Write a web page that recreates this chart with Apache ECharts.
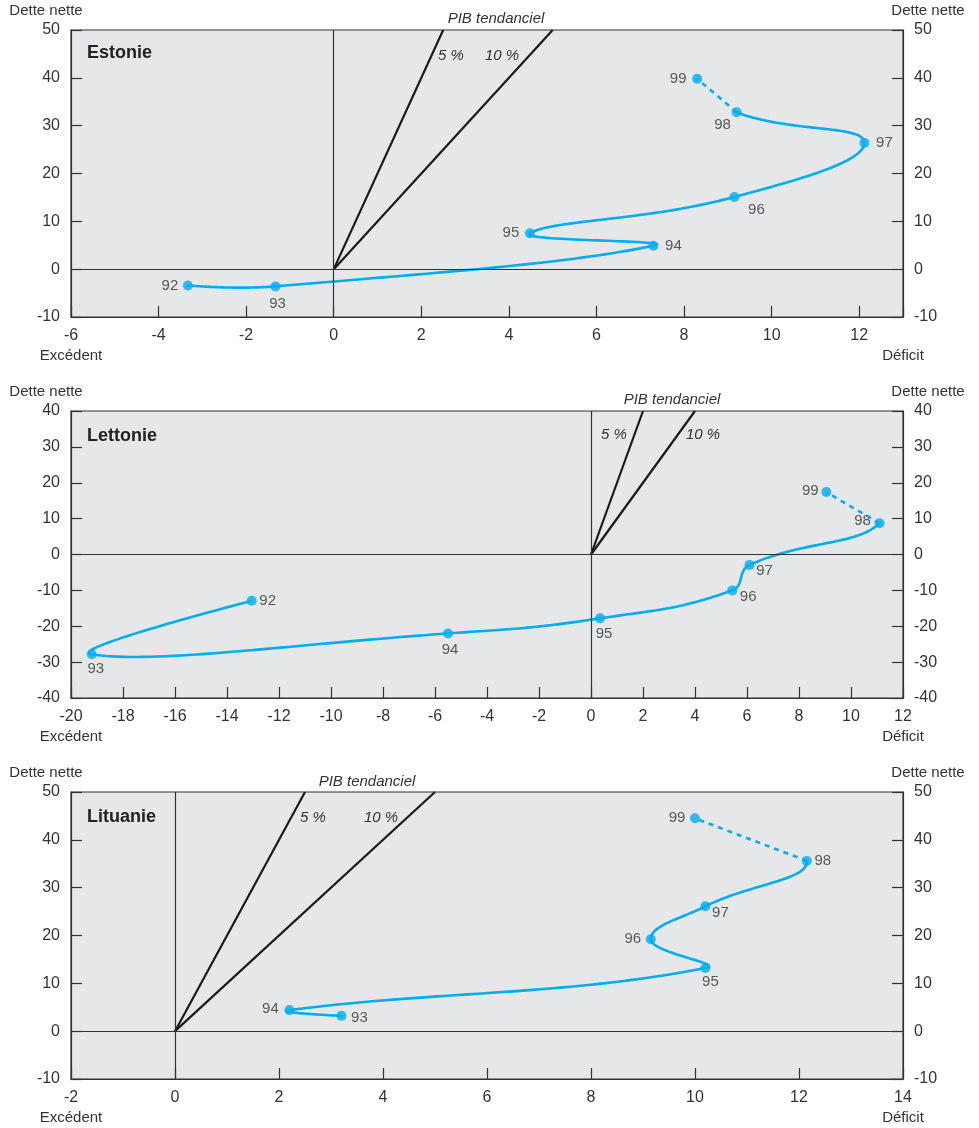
<!DOCTYPE html>
<html>
<head>
<meta charset="utf-8">
<script src="https://cdn.jsdelivr.net/npm/echarts@6/dist/echarts.min.js"></script>
<style>
  html, body { margin: 0; padding: 0; background: #ffffff; }
  #chart { width: 979px; height: 1128px; }
</style>
</head>
<body>
<div id="chart"></div>
<script>
// Déficit (x) et dette nette (y) en % du PIB, par année
const estYears   = ['92', '93', '94', '95', '96', '97', '98', '99'];
const estDeficit = [-3.33, -1.33, 7.3, 4.48, 9.15, 12.12, 9.2, 8.3];
const estDebt    = [-3.4, -3.6, 4.9, 7.5, 15.1, 26.4, 32.8, 39.8];

const latYears   = ['92', '93', '94', '95', '96', '97', '98', '99'];
const latDeficit = [-13.05, -19.2, -5.5, 0.35, 5.43, 6.1, 11.1, 9.05];
const latDebt    = [-12.9, -27.8, -22.0, -17.8, -10.0, -2.9, 8.7, 17.4];

const litYears   = ['93', '94', '95', '96', '97', '98', '99'];
const litDeficit = [3.2, 2.2, 10.2, 9.15, 10.2, 12.15, 10.0];
const litDebt    = [3.2, 4.4, 13.2, 19.2, 26.1, 35.6, 44.5];

// Taux de croissance du PIB tendanciel (dette stable = déficit / croissance)
const pibRates = [5, 10];

// Bornes des axes
const estX = { min: -6, max: 13 },  estY = { min: -10, max: 50 };
const latX = { min: -20, max: 12 }, latY = { min: -40, max: 40 };
const litX = { min: -2, max: 14 },  litY = { min: -10, max: 50 };

// Décalage des étiquettes d'année par rapport au point (pixels)
const estLabelOffsets = [[-18, 0], [2, 17], [20, 0], [-19, 0], [22, 13], [20, 0], [-14, 13], [-19, 0]];
const latLabelOffsets = [[16, 0], [4, 15], [2, 16], [4, 16], [16, 6], [15, 6], [-17, -2], [-16, -1]];
const litLabelOffsets = [[18, 2], [-19, -1], [5, 14], [-18, 0], [15, 7], [16, 0], [-18, 0]];

const BLUE = '#00AEEF';
const INK = '#333333';
const FONT = 'Liberation Sans, Arial, sans-serif';

const panels = [
  { name: 'Estonie',  years: estYears, xs: estDeficit, ys: estDebt, xr: estX, yr: estY, offs: estLabelOffsets, top: 30 },
  { name: 'Lettonie', years: latYears, xs: latDeficit, ys: latDebt, xr: latX, yr: latY, offs: latLabelOffsets, top: 411 },
  { name: 'Lituanie', years: litYears, xs: litDeficit, ys: litDebt, xr: litX, yr: litY, offs: litLabelOffsets, top: 792 }
];

const GRID_H = 287;
const SMOOTH = 0.45;     // intensité du lissage
const STEPS = 40;        // échantillons par segment de Bézier

// Courbe lissée passant par les points projetés : tangente parallèle à
// (suivant - précédent), longueur des poignées proportionnelle aux segments.
// Le dernier point ne sert qu'à orienter la tangente de l'avant-dernier.
function smoothPath(px) {
  const n = px.length;
  const dist = (a, b) => Math.hypot(b[0] - a[0], b[1] - a[1]);
  const handles = px.map((p, i) => {
    if (i === 0) return { back: p, fwd: p };
    const prev = px[i - 1], next = px[Math.min(n - 1, i + 1)];
    if (i === n - 1) return { back: p, fwd: p };
    const vx = next[0] - prev[0], vy = next[1] - prev[1];
    const d0 = dist(prev, p), d1 = dist(p, next);
    const k0 = SMOOTH * d0 / (d0 + d1), k1 = SMOOTH * d1 / (d0 + d1);
    return {
      back: [p[0] - vx * k0, p[1] - vy * k0],
      fwd:  [p[0] + vx * k1, p[1] + vy * k1]
    };
  });
  const out = [];
  for (let i = 0; i < n - 2; i++) {
    const p0 = px[i], p3 = px[i + 1];
    const p1 = handles[i].fwd, p2 = handles[i + 1].back;
    for (let s = (i === 0 ? 0 : 1); s <= STEPS; s++) {
      const t = s / STEPS, u = 1 - t;
      const a = u * u * u, b = 3 * u * u * t, c = 3 * u * t * t, d = t * t * t;
      out.push([
        a * p0[0] + b * p1[0] + c * p2[0] + d * p3[0],
        a * p0[1] + b * p1[1] + c * p2[1] + d * p3[1]
      ]);
    }
  }
  return out;
}

const grids = [], xAxes = [], yAxes = [], series = [];

panels.forEach((p, i) => {
  grids.push({
    left: 71, right: 76, top: p.top, height: GRID_H,
    show: true, backgroundColor: '#E6E7E8', borderColor: INK, borderWidth: 1.2
  });
  xAxes.push({
    type: 'value', gridIndex: i, min: p.xr.min, max: p.xr.max, interval: 2,
    splitLine: { show: false },
    axisLine: { show: true, onZero: false, lineStyle: { color: INK, width: 1.2 } },
    axisTick: { show: true, inside: true, length: 11, lineStyle: { color: INK, width: 1.2 } },
    axisLabel: {
      margin: 11, color: INK, fontSize: 16, fontFamily: FONT,
      formatter: v => (v % 2 === 0 ? String(v) : '')
    }
  });
  ['left', 'right'].forEach(pos => {
    yAxes.push({
      type: 'value', gridIndex: i, position: pos, min: p.yr.min, max: p.yr.max, interval: 10,
      splitLine: { show: false },
      axisLine: { show: true, onZero: false, lineStyle: { color: INK, width: 1.2 } },
      axisTick: { show: true, inside: true, length: 11, lineStyle: { color: INK, width: 1.2 } },
      axisLabel: { margin: 11, color: INK, fontSize: 16, fontFamily: FONT }
    });
  });
  const yIdx = i * 2;

  // Axes zéro
  series.push({
    type: 'line', xAxisIndex: i, yAxisIndex: yIdx, data: [], silent: true,
    markLine: {
      silent: true, symbol: 'none', animation: false,
      label: { show: false },
      lineStyle: { color: INK, width: 1.2, type: 'solid' },
      data: [{ xAxis: 0 }, { yAxis: 0 }]
    }
  });

  // Droites de dette stable pour chaque croissance du PIB tendanciel
  pibRates.forEach(r => {
    series.push({
      type: 'line', xAxisIndex: i, yAxisIndex: yIdx, silent: true, animation: false,
      showSymbol: false, symbol: 'none',
      lineStyle: { color: '#1a1a1a', width: 2.2 },
      data: [[0, 0], [p.yr.max * r / 100, p.yr.max]]
    });
  });

  const pts = p.xs.map((x, k) => [x, p.ys[k]]);
  const n = pts.length;

  // Trajectoire observée, lissée
  series.push({
    type: 'custom', xAxisIndex: i, yAxisIndex: yIdx, animation: false, silent: true,
    encode: { x: 0, y: 1 },
    data: pts,
    renderItem: (params, api) => {
      if (params.dataIndex !== 0) return;
      const px = pts.map(pt => api.coord(pt));
      return {
        type: 'polyline',
        shape: { points: smoothPath(px) },
        style: { stroke: BLUE, lineWidth: 2.6, fill: 'none', lineJoin: 'round', lineCap: 'round' }
      };
    }
  });
  // Dernière année (prévision) en pointillés
  series.push({
    type: 'line', xAxisIndex: i, yAxisIndex: yIdx, animation: false, silent: true,
    showSymbol: false, symbol: 'none',
    lineStyle: { color: BLUE, width: 2.6, type: [5, 5] },
    data: pts.slice(n - 2)
  });
  // Points et années
  series.push({
    type: 'scatter', xAxisIndex: i, yAxisIndex: yIdx, animation: false, silent: true,
    symbolSize: 10, itemStyle: { color: BLUE },
    data: pts.map((pt, k) => ({
      value: pt,
      label: {
        show: true, formatter: p.years[k], position: 'inside',
        offset: p.offs[k], align: 'center', verticalAlign: 'middle',
        color: INK, fontSize: 15, fontFamily: FONT,
        textBorderWidth: 0, textShadowBlur: 0
      }
    }))
  });
});

// Textes d'annotation
function txt(x, y, text, opts) {
  return {
    type: 'text', x: x, y: y, silent: true,
    style: Object.assign({
      text: text, fill: INK, font: '15px ' + FONT, align: 'center', verticalAlign: 'middle'
    }, opts || {})
  };
}
const graphics = [];
const pibLabels = [
  { pib: [496, 19], five: [451, 56], ten: [502, 56] },
  { pib: [672, 400], five: [614, 435], ten: [703, 435] },
  { pib: [367, 782], five: [313, 818], ten: [381, 818] }
];
panels.forEach((p, i) => {
  const top = p.top, bottom = p.top + GRID_H;
  graphics.push(txt(46, top - 19, 'Dette nette'));
  graphics.push(txt(928, top - 19, 'Dette nette'));
  graphics.push(txt(71, bottom + 39, 'Excédent'));
  graphics.push(txt(903, bottom + 39, 'Déficit'));
  graphics.push(txt(87, [53, 436, 817][i], p.name, { align: 'left', font: 'bold 18px ' + FONT, fill: '#222' }));
  const L = pibLabels[i];
  graphics.push(txt(L.pib[0], L.pib[1], 'PIB tendanciel', { font: 'italic 15px ' + FONT }));
  graphics.push(txt(L.five[0], L.five[1], pibRates[0] + ' %', { font: 'italic 15px ' + FONT }));
  graphics.push(txt(L.ten[0], L.ten[1], pibRates[1] + ' %', { font: 'italic 15px ' + FONT }));
});

const chart = echarts.init(document.getElementById('chart'), null, { renderer: 'canvas' });
chart.setOption({
  animation: false,
  backgroundColor: '#ffffff',
  grid: grids,
  xAxis: xAxes,
  yAxis: yAxes,
  series: series,
  graphic: graphics
});
</script>
</body>
</html>
